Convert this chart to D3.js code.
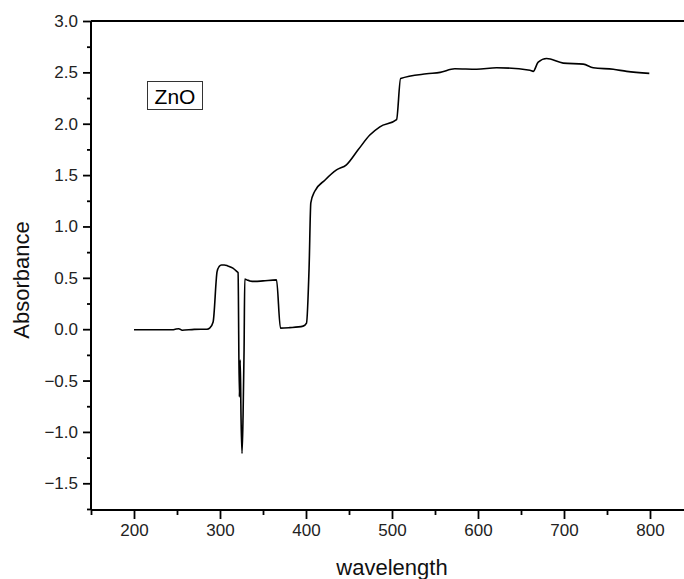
<!DOCTYPE html>
<html>
<head>
<meta charset="utf-8">
<script src="https://cdn.jsdelivr.net/npm/d3@7"></script>
<style>
  html, body { margin: 0; padding: 0; background: #fff; }
  svg { display: block; font-family: "Liberation Sans", Arial, sans-serif; }
</style>
</head>
<body>
<svg id="chart" width="684" height="579"></svg>
<script>
// ---- data ----
const wavelength = [200, 230, 245, 248, 252, 256, 270, 285, 288, 292, 296.6, 299, 301.7, 305, 309, 315, 319.8,
  321, 322.5, 323.5, 324.5, 325.6, 326.8, 328, 328.8, 331.5, 334.6, 340.4, 350, 365.7,
  370.3, 381, 396.6, 400.6, 403.6, 405.6, 410, 421.9, 435.5, 447, 460.6, 474.2, 485.9, 505.3,
  510, 540.2, 556, 573, 598.4, 621.6, 660.4, 664.2, 670, 679.8, 699.1, 722.4, 734, 757.3, 772.9, 799.2];
const absorbance = [-0.005, -0.005, -0.005, 0.0, 0.005, -0.01, -0.002, 0.0, 0.01, 0.07, 0.56, 0.61, 0.625, 0.625, 0.616, 0.595, 0.56,
  0.55, -0.66, -0.3, -0.88, -1.21, -0.85, -0.2, 0.487, 0.48, 0.47, 0.465, 0.47, 0.48,
  0.01, 0.015, 0.03, 0.06, 0.6, 1.23, 1.34, 1.45, 1.55, 1.6, 1.746, 1.89, 1.97, 2.04,
  2.44, 2.486, 2.50, 2.535, 2.53, 2.545, 2.52, 2.51, 2.60, 2.635, 2.59, 2.58, 2.545, 2.53, 2.51, 2.49];
const xTicks = [200, 300, 400, 500, 600, 700, 800];
const xMinorTicks = [150, 250, 350, 450, 550, 650, 750, 850];
const yTicks = [-1.5, -1.0, -0.5, 0.0, 0.5, 1.0, 1.5, 2.0, 2.5, 3.0];
const yMinorTicks = [-1.75, -1.25, -0.75, -0.25, 0.25, 0.75, 1.25, 1.75, 2.25, 2.75];
const xTitle = "wavelength";
const yTitle = "Absorbance";
const legendLabel = "ZnO";

// ---- layout ----
const svg = d3.select("#chart");
const mL = 91, mR = 693, mT = 21, mB = 510;
const x = d3.scaleLinear().domain([150, 850]).range([mL, mR]);
const y = d3.scaleLinear().domain([-1.76, 3.0]).range([mB, mT]);

// frame top / right lines
svg.append("line").attr("x1", mL).attr("x2", mR).attr("y1", mT).attr("y2", mT)
  .attr("stroke", "#000").attr("stroke-width", 2);
svg.append("line").attr("x1", mR).attr("x2", mR).attr("y1", mT).attr("y2", mB)
  .attr("stroke", "#000").attr("stroke-width", 2);

// x axis
const gx = svg.append("g").attr("transform", `translate(0,${mB})`);
gx.call(d3.axisBottom(x).tickValues(xTicks).tickSize(9).tickPadding(5).tickFormat(d3.format("d")));
const gxm = svg.append("g").attr("transform", `translate(0,${mB})`);
gxm.call(d3.axisBottom(x).tickValues(xMinorTicks).tickSize(5).tickFormat(""));
gxm.select(".domain").remove();

// y axis
const gy = svg.append("g").attr("transform", `translate(${mL},0)`);
gy.call(d3.axisLeft(y).tickValues(yTicks).tickSize(8).tickPadding(5).tickFormat(d3.format(".1f")));
const gym = svg.append("g").attr("transform", `translate(${mL},0)`);
gym.call(d3.axisLeft(y).tickValues(yMinorTicks).tickSize(4).tickFormat(""));
gym.select(".domain").remove();

gx.select(".domain").attr("d", `M${mL},0H${mR}`).attr("stroke", "#000").attr("stroke-width", 2);
gy.select(".domain").attr("d", `M0,${mT}V${mB}`).attr("stroke", "#000").attr("stroke-width", 2);
svg.selectAll(".tick line").attr("stroke", "#000").attr("stroke-width", 1.8);
svg.selectAll(".tick text").attr("fill", "#222").style("font-size", "17px")
  .style("font-family", "'Liberation Sans', Arial, sans-serif");

// curve
const line = d3.line().curve(d3.curveMonotoneX)
  .x((d, i) => x(wavelength[i])).y((d, i) => y(absorbance[i]));
svg.append("path").datum(absorbance).attr("d", line)
  .attr("fill", "none").attr("stroke", "#000").attr("stroke-width", 1.6)
  .attr("stroke-linejoin", "round");

// titles
svg.append("text").attr("x", 392).attr("y", 575).attr("text-anchor", "middle")
  .style("font-size", "22px").attr("fill", "#111").text(xTitle);
svg.append("text").attr("transform", "translate(29,280) rotate(-90)").attr("text-anchor", "middle")
  .style("font-size", "22px").attr("fill", "#111").text(yTitle);

// legend box
svg.append("rect").attr("x", 147.5).attr("y", 81.5).attr("width", 55).attr("height", 28)
  .attr("fill", "#fff").attr("stroke", "#333").attr("stroke-width", 1);
svg.append("text").attr("x", 175).attr("y", 104).attr("text-anchor", "middle")
  .style("font-size", "21px").attr("fill", "#000").text(legendLabel);
</script>
</body>
</html>
